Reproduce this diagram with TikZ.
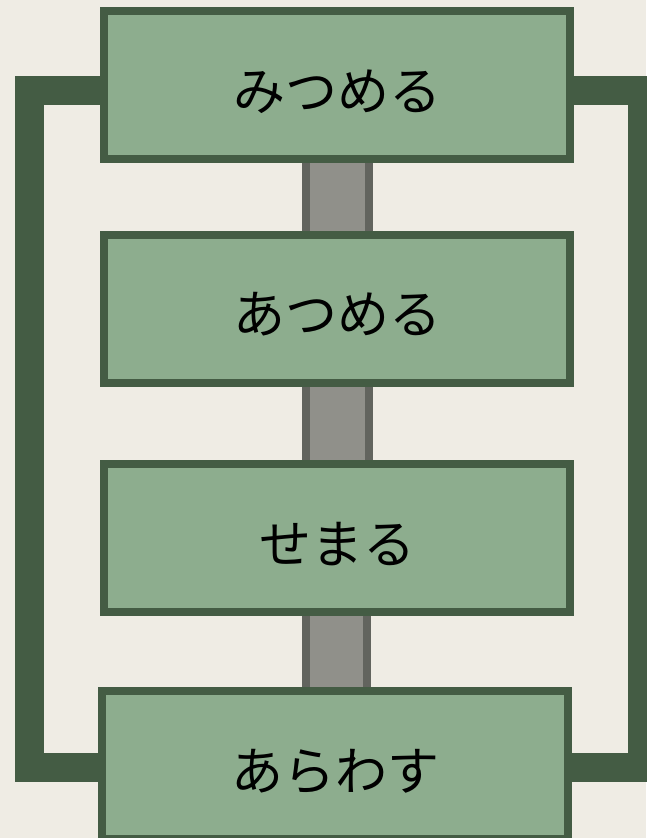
\documentclass[tikz,border=0pt]{standalone}
\usepackage{fontspec}
\setmainfont{Noto Sans CJK JP}
\usetikzlibrary{calc,backgrounds}
\definecolor{bgc}{HTML}{EFECE4}
\definecolor{boxfill}{HTML}{8DAD8E}
\definecolor{boxline}{HTML}{445C44}
\definecolor{connfill}{HTML}{90908A}
\definecolor{connline}{HTML}{62645E}
\tikzset{
  stepbox/.style={draw=boxline, fill=boxfill, line width=8pt, minimum width=466pt, minimum height=148pt, inner sep=0pt, outer sep=0pt, font=\fontsize{52}{60}\selectfont, text=black, text height=50pt, text depth=0pt},
  connbar/.style={draw=connline, fill=connfill, line width=8pt},
  bracket/.style={draw=boxline, line width=29pt, line join=miter}
}
\begin{document}
\begin{tikzpicture}[x=1pt,y=-1pt]
\useasboundingbox (0,0) rectangle (646,838);
\node[stepbox] (b1) at (337,85) {みつめる};
\node[stepbox] (b2) at (337,308.5) {あつめる};
\node[stepbox] (b3) at (337,538) {せまる};
\node[stepbox] (b4) at (335,765) {あらわす};
\coordinate (lt) at (29.5,90.5);
\coordinate (rt) at (642.5,90.5);
\begin{scope}[on background layer]
\fill[bgc] (0,0) rectangle (646,838);
\draw[connbar] ($(b1.south)+(-31.5,0)$) rectangle ($(b2.north)+(31.5,0)$);
\draw[connbar] ($(b2.south)+(-31.5,0)$) rectangle ($(b3.north)+(31.5,0)$);
\draw[connbar] ($(b3.south)+(-31.5,0)$) rectangle ($(b4.north)+(31.5,0)$);
\draw[bracket] ($(b1.west)+(0,5.5)$) -- (lt) |- ($(b4.west)+(0,2.5)$);
\draw[bracket] ($(b1.east)+(0,5.5)$) -- (rt) |- ($(b4.east)+(0,2.5)$);
\end{scope}
\end{tikzpicture}
\end{document}
